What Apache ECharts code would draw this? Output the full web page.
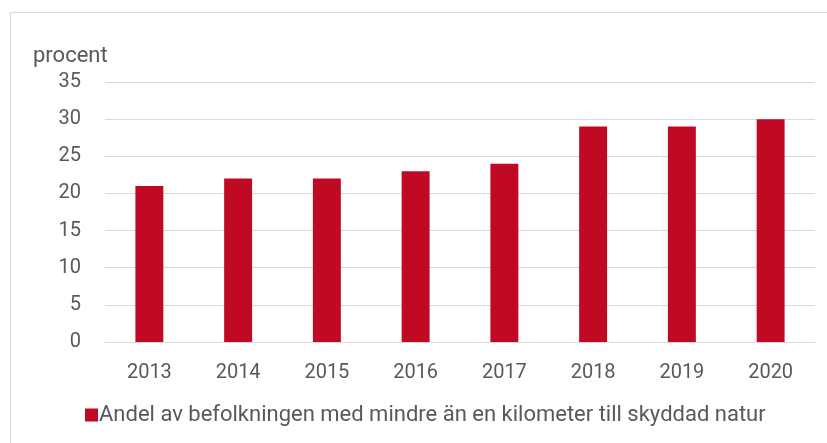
<!DOCTYPE html>
<html>
<head>
<meta charset="utf-8">
<title>Andel av befolkningen</title>
<script src="https://cdn.jsdelivr.net/npm/echarts@6/dist/echarts.min.js"></script>
<style>
  body { margin: 0; background: #fff; }
  #chart { width: 827px; height: 443px; }
</style>
</head>
<body>
<div id="chart"></div>
<script>
// data
var years = ['2013', '2014', '2015', '2016', '2017', '2018', '2019', '2020'];
var andel = [21, 22, 22, 23, 24, 29, 29, 30];
var seriesName = 'Andel av befolkningen med mindre än en kilometer till skyddad natur';

var font = 'Roboto, sans-serif';
var textColor = '#595959';

var chart = echarts.init(document.getElementById('chart'));
var option = {
  animation: false,
  textStyle: { fontFamily: font },
  // grå ram runt diagrammet
  graphic: [{
    type: 'rect',
    shape: { x: 10.5, y: 12.5, width: 840, height: 460 },
    style: { fill: 'none', stroke: '#d9d9d9', lineWidth: 1 },
    silent: true
  }],
  grid: { left: 105, right: 12, top: 82, bottom: 101 },
  legend: {
    top: 399,
    left: 80,
    itemWidth: 13,
    itemHeight: 13,
    icon: 'rect',
    textStyle: { fontFamily: font, fontSize: 22, color: textColor, padding: [0, 0, 0, -4] },
    data: [seriesName]
  },
  xAxis: {
    type: 'category',
    data: years,
    axisLine: { lineStyle: { color: '#d9d9d9' } },
    axisTick: { show: false },
    axisLabel: { color: textColor, fontSize: 20, margin: 21, fontFamily: font }
  },
  yAxis: {
    type: 'value',
    min: 0,
    max: 35,
    interval: 5,
    name: 'procent',
    nameLocation: 'end',
    nameGap: 26,
    nameTextStyle: { color: textColor, fontSize: 22, fontFamily: font, align: 'left', verticalAlign: 'middle', padding: [0, 0, 0, -72] },
    axisLine: { show: false },
    axisTick: { show: false },
    splitLine: { lineStyle: { color: '#d9d9d9' } },
    axisLabel: { color: textColor, fontSize: 20, margin: 24, fontFamily: font }
  },
  series: [{
    name: seriesName,
    type: 'bar',
    data: andel,
    barWidth: '31.5%',
    itemStyle: { color: '#c00a23' }
  }]
};
chart.setOption(option);
</script>
</body>
</html>
